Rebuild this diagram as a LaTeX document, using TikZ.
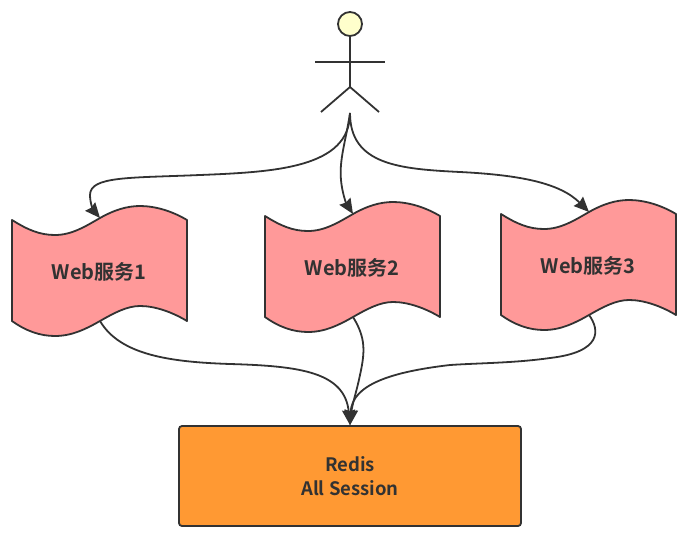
\documentclass[tikz,border=0pt]{standalone}
\usepackage{fontspec}
\setmainfont{Noto Sans CJK SC}[BoldFont={Noto Sans CJK SC Bold}]
\usetikzlibrary{arrows.meta}
\definecolor{ink}{HTML}{323232}
\definecolor{wavefill}{HTML}{FF9999}
\definecolor{boxfill}{HTML}{FF9933}
\definecolor{headfill}{HTML}{FFFFCC}
\tikzset{
  line/.style={draw=ink,line width=1.8pt},
  conn/.style={draw=ink,line width=1.8pt,-{Stealth[length=15pt,width=13pt,inset=1.5pt]}},
  lbl/.style={font=\bfseries\fontsize{18.5}{24}\selectfont,text=ink,align=center},
  weblbl/.style={font=\bfseries\fontsize{20}{24}\selectfont,text=ink,align=center},
}
\newcommand{\wavedoc}[4]{%
  \begin{scope}[shift={(#2,#3)}]
    \draw[line,fill=wavefill,line join=round]
      (12,220) .. controls (28,230) and (40,235) .. (55,235)
      .. controls (72,235) and (86,226) .. (100,218)
      .. controls (114,210) and (127,206) .. (140,206)
      .. controls (155,206) and (172,211) .. (187,220)
      -- (187,321)
      .. controls (172,312) and (155,306) .. (140,306)
      .. controls (127,306) and (114,313) .. (100,321)
      .. controls (86,329) and (72,336) .. (55,336)
      .. controls (40,336) and (26,331) .. (12,321) -- cycle;
    \node[weblbl] (#1) at (99,272) {Web服务#4};
    \coordinate (#1top) at (100,218);
    \coordinate (#1bot) at (100,321);
  \end{scope}}
\begin{document}
\begin{tikzpicture}[x=1pt,y=-1pt]
\useasboundingbox (0,0) rectangle (694,544);
% actor
\node[line,fill=headfill,circle,minimum size=24pt,inner sep=0pt] (head) at (350,24) {};
\coordinate (hip) at (350,87);
\coordinate (armL) at (315,62);
\coordinate (armR) at (385,62);
\coordinate (legL) at (321,112);
\coordinate (legR) at (379,112);
\coordinate (foot) at (350,113);
\draw[line] (head.south) -- (hip);
\draw[line] (armL) -- (armR);
\draw[line] (legL) -- (hip) -- (legR);
% web services
\wavedoc{w1}{0}{0}{1}
\wavedoc{w2}{253}{-4}{2}
\wavedoc{w3}{489}{-6}{3}
% redis
\node[line,fill=boxfill,rounded corners=3pt,minimum width=342pt,minimum height=100pt,inner sep=0pt,lbl] (redis) at (350,476) {Redis\\All Session};
% connectors
\draw[conn] (foot) .. controls (350,168) and (275,172) .. (200,175)
  .. controls (130,178) and (90,176) .. (90,195)
  .. controls (90,204) and (94,211) .. (w1top);
\draw[conn] (foot) .. controls (346,140) and (339,160) .. (341,180)
  .. controls (342,192) and (346,203) .. (w2top);
\draw[conn] (foot) .. controls (350,165) and (400,169) .. (460,172)
  .. controls (520,175) and (560,183) .. (w3top);
\draw[conn] (w1bot) .. controls (120,355) and (170,362) .. (230,364)
  .. controls (300,366) and (345,372) .. (redis.north);
\draw[conn] (w2bot) .. controls (366,338) and (365,352) .. (360,375)
  .. controls (357,390) and (352,405) .. (redis.north);
\draw[conn] (w3bot) .. controls (600,330) and (602,352) .. (550,358)
  .. controls (515,363) and (480,363) .. (450,365)
  .. controls (390,372) and (352,385) .. (redis.north);
\end{tikzpicture}
\end{document}
